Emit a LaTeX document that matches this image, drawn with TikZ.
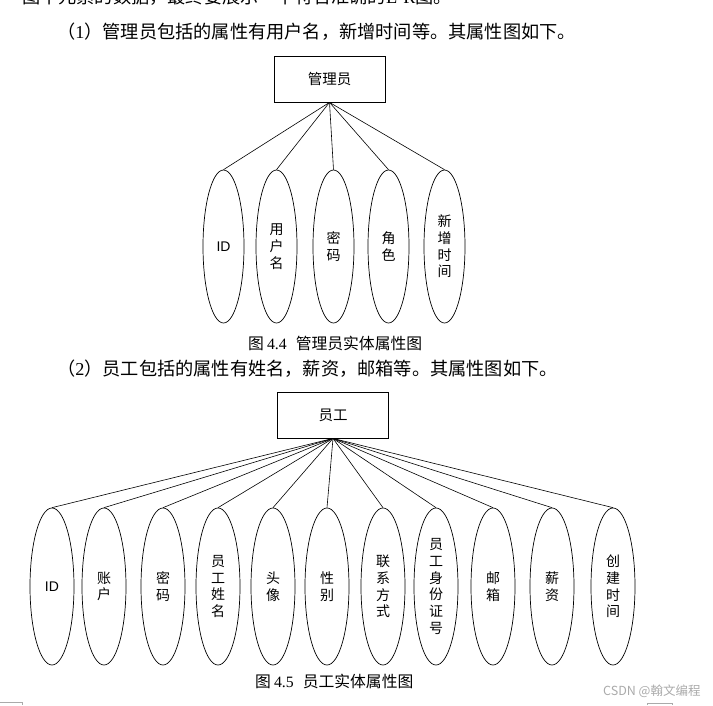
\documentclass[tikz,border=0pt]{standalone}
\usepackage{fontspec}
\setmainfont{Noto Sans CJK SC}
\newfontfamily\tnr{Liberation Serif}
\newfontfamily\arial{Liberation Sans}
\usetikzlibrary{shapes.geometric, positioning}
\definecolor{markgray}{RGB}{170, 170, 170}

\begin{document}
\begin{tikzpicture}[
    x=1pt, y=-1pt,
    entity/.style={draw, line width=0.8pt, minimum width=111pt,
                   minimum height=46pt, inner sep=0pt,
                   font=\fontsize{14.5}{16}\selectfont},
    attr/.style={draw, ellipse, line width=0.7pt, minimum width=41pt,
                 minimum height=153pt, inner sep=0pt, align=center,
                 font=\fontsize{14}{16.7}\selectfont},
    wideattr/.style={attr, minimum width=44pt, minimum height=157pt},
    link/.style={line width=0.6pt},
    para/.style={anchor=base west, inner sep=0pt,
                 font=\fontsize{18.2}{20}\selectfont},
    caption/.style={anchor=base west, inner sep=0pt,
                    font=\fontsize{15.8}{18}\selectfont}
  ]
  \useasboundingbox (0,0) rectangle (713,705);
  \clip (0,0) rectangle (713,705);

  % text of the page
  \node[para] (prev) at (22,3) {图中元素的数据，最终要展示一个符合准确的{\tnr E-R}图。};
  \node[para] (intro1) at (57,38.5) {（{\tnr 1}）管理员包括的属性有用户名，新增时间等。其属性图如下。};
  \node[para] (intro2) at (57,375) {（{\tnr 2}）员工包括的属性有姓名，薪资，邮箱等。其属性图如下。};

  % admin entity
  \node[entity] (admin) at (329.5,79) {管理员};
  \node[attr] (aid)   at (223.5,246.5) {\arial ID};
  \node[attr] (aname) at (276.5,246.5) {用\\户\\名};
  \node[attr] (apwd)  at (333.5,246.5) {密\\码};
  \node[attr] (arole) at (388.5,246.5) {角\\色};
  \node[attr] (atime) at (444.5,246.5) {新\\增\\时\\间};

  \draw[link] (admin.south) -- (aid.north);
  \draw[link] (admin.south) -- (aname.north);
  \draw[link] (admin.south) -- (apwd.north);
  \draw[link] (admin.south) -- (arole.north);
  \draw[link] (admin.south) -- (atime.north);

  \node[caption] (cap1) at (248,349) {图\hspace{3pt}{\tnr 4.4}\hspace{9pt}管理员实体属性图};

  % staff entity
  \node[entity] (staff) at (333,415) {员工};
  \node[wideattr] (sid)    at (52,586.5)  {\arial ID};
  \node[wideattr] (sacc)   at (104,586.5) {账\\户};
  \node[wideattr] (spwd)   at (163,586.5) {密\\码};
  \node[wideattr] (sname)  at (218,586.5) {员\\工\\姓\\名};
  \node[wideattr] (sface)  at (273,586.5) {头\\像};
  \node[wideattr] (ssex)   at (327,586.5) {性\\别};
  \node[wideattr] (sphone) at (383,586.5) {联\\系\\方\\式};
  \node[wideattr] (scard)  at (436,586.5) {员\\工\\身\\份\\证\\号};
  \node[wideattr] (smail)  at (493,586.5) {邮\\箱};
  \node[wideattr] (spay)   at (552,586.5) {薪\\资};
  \node[wideattr] (stime)  at (613,586.5) {创\\建\\时\\间};

  \draw[link] (staff.south) -- (sid.north);
  \draw[link] (staff.south) -- (sacc.north);
  \draw[link] (staff.south) -- (spwd.north);
  \draw[link] (staff.south) -- (sname.north);
  \draw[link] (staff.south) -- (sface.north);
  \draw[link] (staff.south) -- (ssex.north);
  \draw[link] (staff.south) -- (sphone.north);
  \draw[link] (staff.south) -- (scard.north);
  \draw[link] (staff.south) -- (smail.north);
  \draw[link] (staff.south) -- (spay.north);
  \draw[link] (staff.south) -- (stime.north);

  \node[caption] (cap2) at (255,687) {图\hspace{3pt}{\tnr 4.5}\hspace{9pt}员工实体属性图};

  % watermark and page marks
  \node[anchor=base west, inner sep=0pt, text=markgray,
        font=\fontsize{12.5}{14}\selectfont] (mark) at (603,695) {CSDN @翰文编程};
  \draw[markgray, line width=0.6pt] (0,702) -- (22,702) -- (22,705);
  \draw[markgray, line width=0.6pt] (647,705) -- (647,703.5) -- (672,703.5) -- (672,705);
\end{tikzpicture}
\end{document}
